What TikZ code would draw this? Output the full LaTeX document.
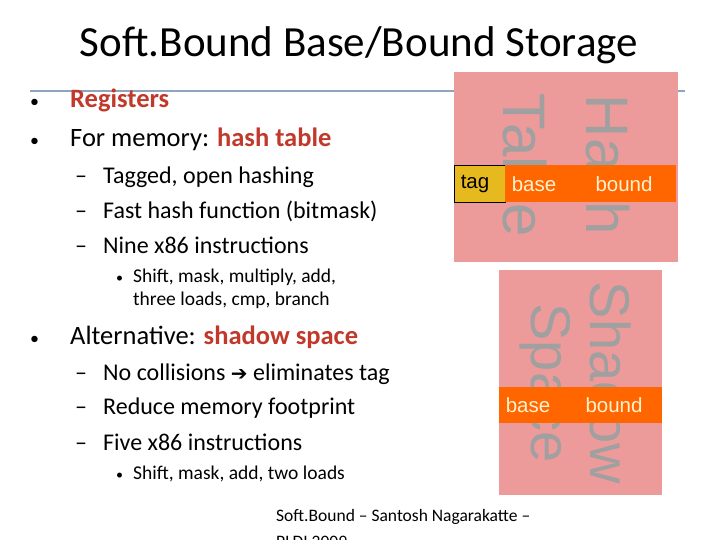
\documentclass[tikz,border=0pt]{standalone}
\usepackage{fontspec}
\setmainfont{Carlito}
\newfontfamily\arialf{Liberation Sans}
\newfontfamily\djv{DejaVu Sans}
\definecolor{pinkbg}{HTML}{EC9A9A}
\definecolor{orng}{HTML}{FF6600}
\definecolor{yel}{HTML}{E6B91E}
\definecolor{redt}{HTML}{C0392B}
\definecolor{rule}{HTML}{8EA5C0}
\definecolor{bigg}{HTML}{A0A0A0}
\definecolor{cream}{HTML}{FFF2CC}
\newcommand{\bul}{{\fontsize{18}{20}\selectfont•}}
\begin{document}
\begin{tikzpicture}[x=1pt,y=-1pt,
  txt/.style={anchor=west,inner sep=0pt},
  l1/.style={txt,font=\fontsize{26.5}{28}\selectfont},
  l2/.style={txt,font=\fontsize{24}{26}\selectfont},
  l3/.style={txt,font=\fontsize{19.5}{22}\selectfont},
  big/.style={rotate=-90,text=bigg,font=\arialf\fontsize{60}{60}\selectfont,inner sep=0pt},
  cell/.style={font=\arialf\fontsize{20.5}{22}\selectfont,text=cream,inner sep=0pt}]
\useasboundingbox (0,0) rectangle (720,540);
\clip (0,0) rectangle (720,540);
\node[font=\fontsize{43}{46}\selectfont] (title) at (359,45) {Soft.Bound Base/Bound Storage};
\draw[rule,line width=1.2pt] (30,91) coordinate (r1) -- (685,91) coordinate (r2);
% hash table
\fill[pinkbg] (454,72) rectangle (678,262);
\node[big] (hash) at (608,165) {Hash};
\node[big] (table) at (525,165) {Table};
\fill[yel] (454,165) rectangle (505,202);
\draw[black] (454,165) rectangle (505,202);
\fill[orng] (505,165) rectangle (676,202);
\node[cell,text=black] (tag) at (475,184) {tag};
\node[cell] (b1) at (534,184) {base};
\node[cell] (bd1) at (624,184) {bound};
% shadow
\fill[pinkbg] (499,270) rectangle (662,495);
\node[big,font=\arialf\fontsize{56}{56}\selectfont] (shadow) at (611,383) {Shadow};
\node[big,font=\arialf\fontsize{56}{56}\selectfont] (space) at (545,383) {Space};
\fill[orng] (499,387) rectangle (662,423);
\node[cell] (b2) at (528,405) {base};
\node[cell] (bd2) at (614,405) {bound};
% text
\node[l1] (t1) at (30,100) {\makebox[40pt][l]{\bul}\textcolor{redt}{\textbf{Registers}}};
\node[l1] (t2) at (30,139) {\makebox[40pt][l]{\bul}For memory: \textcolor{redt}{\textbf{hash table}}};
\node[l2] (t3) at (75,177) {\makebox[28pt][l]{–}Tagged, open hashing};
\node[l2] (t4) at (75,211) {\makebox[28pt][l]{–}Fast hash function (bitmask)};
\node[l2] (t5) at (75,245) {\makebox[28pt][l]{–}Nine x86 instructions};
\node[l3] (t6) at (116,277) {\makebox[17pt][l]{{\fontsize{14}{16}\selectfont•}}Shift, mask, multiply, add,};
\node[l3] (t7) at (133,300) {three loads, cmp, branch};
\node[l1] (t8) at (30,337) {\makebox[40pt][l]{\bul}Alternative: \textcolor{redt}{\textbf{shadow space}}};
\node[l2] (t9) at (75,374) {\makebox[28pt][l]{–}No collisions {\djv\fontsize{20}{22}\selectfont\symbol{"2794}} eliminates tag};
\node[l2] (t10) at (75,408) {\makebox[28pt][l]{–}Reduce memory footprint};
\node[l2] (t11) at (75,442) {\makebox[28pt][l]{–}Five x86 instructions};
\node[l3] (t12) at (116,474) {\makebox[17pt][l]{{\fontsize{14}{16}\selectfont•}}Shift, mask, add, two loads};
\node[txt,anchor=north west,font=\fontsize{17.5}{26}\selectfont,align=left] (foot) at (276,509) {Soft.Bound – Santosh Nagarakatte –\\PLDI 2009};
\end{tikzpicture}
\end{document}
